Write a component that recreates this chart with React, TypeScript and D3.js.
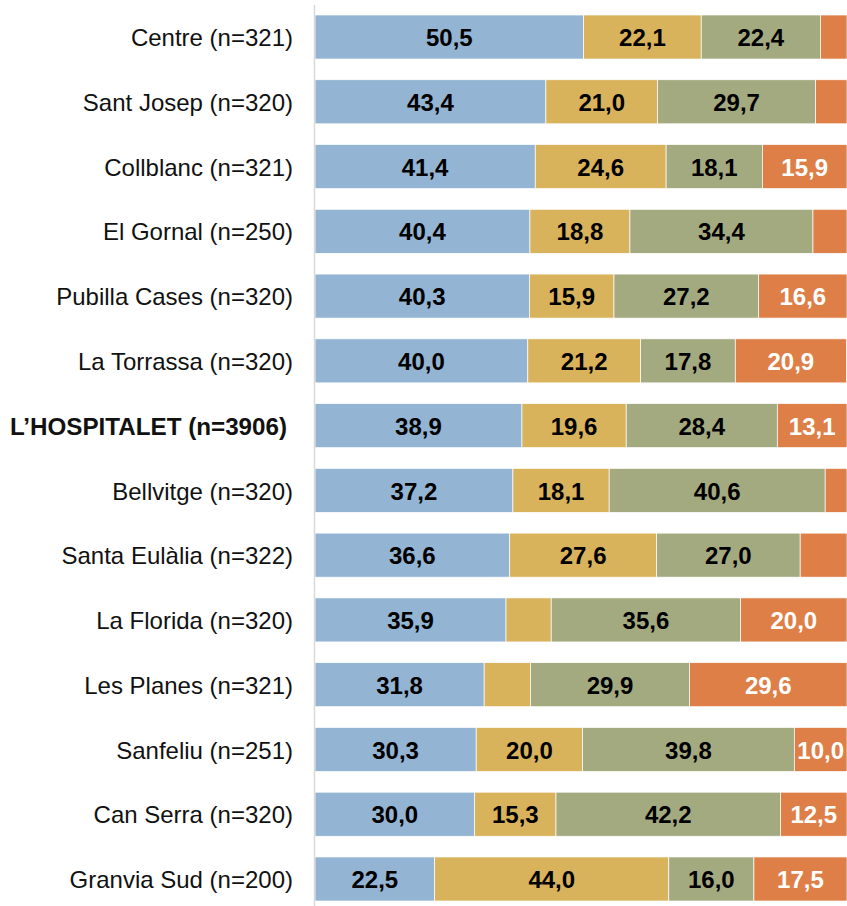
import { useRef, useEffect } from 'react'
import * as d3 from 'd3'

const categories = [
  'Centre (n=321)',
  'Sant Josep (n=320)',
  'Collblanc (n=321)',
  'El Gornal (n=250)',
  'Pubilla Cases (n=320)',
  'La Torrassa (n=320)',
  'L\u2019HOSPITALET (n=3906)',
  'Bellvitge (n=320)',
  'Santa Eulàlia (n=322)',
  'La Florida (n=320)',
  'Les Planes (n=321)',
  'Sanfeliu (n=251)',
  'Can Serra (n=320)',
  'Granvia Sud (n=200)',
]
const series1 = [50.5, 43.4, 41.4, 40.4, 40.3, 40.0, 38.9, 37.2, 36.6, 35.9, 31.8, 30.3, 30.0, 22.5]
const series2 = [22.1, 21.0, 24.6, 18.8, 15.9, 21.2, 19.6, 18.1, 27.6, 8.5, 8.7, 20.0, 15.3, 44.0]
const series3 = [22.4, 29.7, 18.1, 34.4, 27.2, 17.8, 28.4, 40.6, 27.0, 35.6, 29.9, 39.8, 42.2, 16.0]
const series4 = [5.0, 5.9, 15.9, 6.4, 16.6, 20.9, 13.1, 4.1, 8.8, 20.0, 29.6, 10.0, 12.5, 17.5]
const colors = ['#93b4d2', '#d9b25c', '#a4aa80', '#de7f48']
const labelColors = ['#000', '#000', '#000', '#fff']
const highlight = 'L\u2019HOSPITALET (n=3906)'

export default function App() {
  const svgRef = useRef<SVGSVGElement>(null)
  const width = 847
  const height = 906

  useEffect(() => {
    if (!svgRef.current) return
    const svg = d3.select(svgRef.current)
    svg.selectAll('*').remove()

    const x = d3.scaleLinear().domain([0, 100]).range([315, 847])
    const y = d3.scaleBand().domain(categories).range([15, 901]).paddingInner(0.32).paddingOuter(0)

    const rows = categories.map((c, i) => ({
      cat: c,
      values: [series1[i], series2[i], series3[i], series4[i]],
    }))

    rows.forEach((r) => {
      let acc = 0
      const g = svg.append('g')
      const yc = y(r.cat)! + y.bandwidth() / 2
      r.values.forEach((v, k) => {
        const x0 = x(acc)
        const x1 = Math.min(x(acc + v), 847)
        acc += v
        g.append('rect')
          .attr('x', x0)
          .attr('y', y(r.cat)!)
          .attr('width', Math.max(0, x1 - x0))
          .attr('height', y.bandwidth())
          .attr('fill', colors[k])
          .attr('stroke', '#fff')
          .attr('stroke-width', 0.7)
        if (v >= 10) {
          g.append('text')
            .attr('x', (x0 + x1) / 2)
            .attr('y', yc)
            .attr('dy', '0.38em')
            .attr('text-anchor', 'middle')
            .attr('font-family', "'Liberation Sans', Arial, sans-serif")
            .attr('font-weight', 700)
            .attr('font-size', 24)
            .attr('fill', labelColors[k])
            .text(v.toFixed(1).replace('.', ','))
        }
      })

      const bold = r.cat === highlight
      svg.append('text')
        .attr('x', bold ? 287 : 293)
        .attr('y', yc)
        .attr('dy', '0.38em')
        .attr('text-anchor', 'end')
        .attr('font-family', "'Liberation Sans', Arial, sans-serif")
        .attr('font-weight', bold ? 700 : 400)
        .attr('font-size', bold ? 24.2 : 24)
        .attr('fill', '#111')
        .text(r.cat)
    })

    // axis line
    svg.append('line')
      .attr('x1', 314.5)
      .attr('x2', 314.5)
      .attr('y1', 5)
      .attr('y2', height)
      .attr('stroke', '#d9d9d9')
      .attr('stroke-width', 1.5)
  }, [])

  return (
    <svg
      ref={svgRef}
      width={width}
      height={height}
      style={{ position: 'absolute', left: 0, top: 0, background: '#fff' }}
    />
  )
}
